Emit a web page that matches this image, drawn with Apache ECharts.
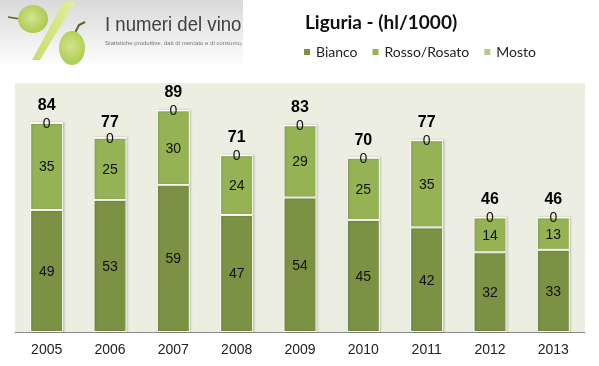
<!DOCTYPE html>
<html>
<head>
<meta charset="utf-8">
<title>Liguria - (hl/1000)</title>
<script src="https://cdn.jsdelivr.net/npm/echarts@6/dist/echarts.min.js"></script>
<style>
	html, body { margin: 0; padding: 0; background: #fff; }
	#chart { width: 599px; height: 366px; }
</style>
</head>
<body>
<div id="chart"></div>
<script type="text/javascript">
	var years = ['2005', '2006', '2007', '2008', '2009', '2010', '2011', '2012', '2013'];
	var bianco = [49, 53, 59, 47, 54, 45, 42, 32, 33];
	var rosso = [35, 25, 30, 24, 29, 25, 35, 14, 13];
	var mosto = [0, 0, 0, 0, 0, 0, 0, 0, 0];
	var totale = [84, 77, 89, 71, 83, 70, 77, 46, 46];

	var chart = echarts.init(document.getElementById('chart'));

	//stile comune delle barre impilate
	function barSeries(name, data, color) {
		return {
			name: name,
			type: 'bar',
			stack: 'vino',
			data: data,
			barWidth: 33,
			itemStyle: {
				color: color,
				borderColor: '#fff',
				borderWidth: 1,
				shadowColor: 'rgba(0,0,0,0.18)',
				shadowBlur: 2,
				shadowOffsetX: 1,
				shadowOffsetY: 0
			},
			label: {
				show: true,
				position: 'inside',
				offset: [0, 1],
				color: '#111',
				fontFamily: 'Liberation Sans',
				fontSize: 14
			}
		};
	}

	// logo in alto a sinistra, solo decorazione
	var logo = [
		{
			type: 'rect',
			shape: { x: 0, y: 0, width: 243, height: 68 },
			style: {
				fill: new echarts.graphic.LinearGradient(0, 0, 0, 1, [
					{ offset: 0, color: '#d9d9d9' },
					{ offset: 1, color: '#ffffff' }
				])
			},
			silent: true
		},
		{
			type: 'polygon',
			shape: { points: [[64, 1], [75, 2], [40, 60], [32, 60]] },
			style: {
				fill: new echarts.graphic.LinearGradient(0, 0, 1, 0, [
					{ offset: 0, color: '#c6dc6c' },
					{ offset: 1, color: '#e4ef9c' }
				])
			},
			silent: true
		},
		{
			type: 'polyline',
			shape: { points: [[8, 17], [14, 18], [20, 19]] },
			style: { stroke: '#6d5a2e', lineWidth: 1.5, fill: 'none' },
			silent: true
		},
		{
			type: 'ellipse',
			shape: { cx: 33, cy: 19, rx: 15, ry: 14 },
			style: {
				fill: new echarts.graphic.RadialGradient(0.45, 0.45, 0.6, [
					{ offset: 0, color: '#d3e38c' },
					{ offset: 1, color: '#a9c94e' }
				])
			},
			silent: true
		},
		{
			type: 'polyline',
			shape: { points: [[85, 22], [79, 25], [75, 33]] },
			style: { stroke: '#6d5a2e', lineWidth: 2, fill: 'none' },
			silent: true
		},
		{
			type: 'ellipse',
			shape: { cx: 72, cy: 48, rx: 13, ry: 17 },
			style: {
				fill: new echarts.graphic.RadialGradient(0.45, 0.45, 0.6, [
					{ offset: 0, color: '#d3e38c' },
					{ offset: 1, color: '#b0cf55' }
				])
			},
			silent: true
		},
		{
			type: 'text',
			x: 105,
			y: 15,
			scaleX: 0.93,
			style: {
				text: 'I numeri del vino',
				fill: '#404040',
				font: '20px "Liberation Sans"'
			},
			silent: true
		},
		{
			type: 'text',
			x: 105,
			y: 40,
			style: {
				text: 'Statistiche produttive, dati di mercato e di consumo,',
				fill: '#777',
				font: '6px "Liberation Sans"'
			},
			silent: true
		}
	];

	var option = {
		animation: false,
		title: {
			text: 'Liguria - (hl/1000)',
			left: 300,
			top: 8,
			textStyle: {
				color: '#111',
				fontFamily: 'Lato',
				fontWeight: 'bold',
				fontSize: 19
			}
		},
		legend: {
			left: 302,
			top: 45,
			padding: 0,
			data: ['Bianco', 'Rosso/Rosato', 'Mosto'],
			icon: 'rect',
			itemWidth: 8,
			itemHeight: 8,
			itemGap: 13,
			textStyle: {
				color: '#222',
				fontFamily: 'Lato',
				fontSize: 14
			}
		},
		grid: {
			left: 15,
			right: 14,
			top: 83,
			bottom: 34,
			show: true,
			backgroundColor: '#ebeee0',
			borderWidth: 0
		},
		xAxis: {
			type: 'category',
			data: years,
			axisTick: { show: false },
			axisLine: { lineStyle: { color: '#8c8c8c', width: 1 } },
			axisLabel: {
				color: '#222',
				fontFamily: 'Liberation Sans',
				fontSize: 14,
				margin: 11
			}
		},
		yAxis: {
			type: 'value',
			min: 0,
			max: 100,
			show: false,
			splitLine: { show: false }
		},
		color: ['#7b9143', '#95b255', '#b3cb8b'],
		series: [
			barSeries('Bianco', bianco, '#7b9143'),
			barSeries('Rosso/Rosato', rosso, '#95b255'),
			barSeries('Mosto', mosto, '#b3cb8b'),
			{
				// etichette dei totali sopra le barre
				name: 'Totale',
				type: 'line',
				data: totale,
				showSymbol: true,
				symbol: 'circle',
				symbolSize: 1,
				itemStyle: { color: 'rgba(0,0,0,0)' },
				lineStyle: { opacity: 0 },
				z: 5,
				label: {
					show: true,
					position: 'top',
					distance: 9,
					color: '#000',
					fontFamily: 'Liberation Sans',
					fontWeight: 'bold',
					fontSize: 16
				}
			}
		],
		graphic: logo
	};

	chart.setOption(option);
</script>
</body>
</html>
